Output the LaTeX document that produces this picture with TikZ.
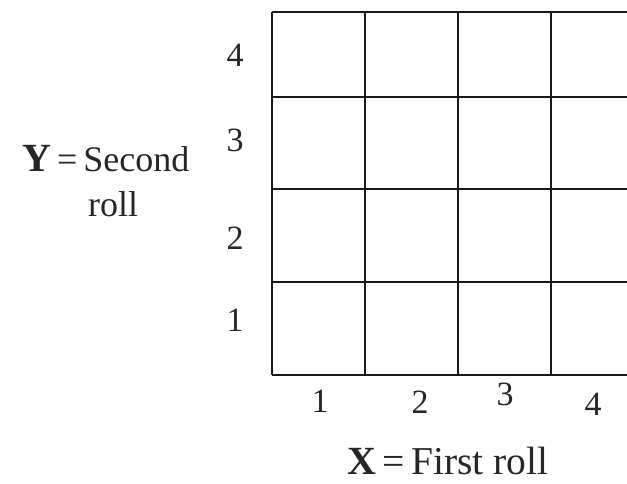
\documentclass[tikz,border=0pt]{standalone}
\usepackage{fontspec}
\setmainfont{Liberation Serif}
\tikzset{
  gridline/.style={line width=1.9pt, black!90},
  digit/.style={inner sep=0pt, anchor=base, font=\fontsize{34}{34}\selectfont, text=black!85},
  axistext/.style={inner sep=0pt, anchor=base west, font=\fontsize{36}{36}\selectfont, text=black!85},
}
\newcommand{\bigvar}[1]{{\fontsize{40}{40}\selectfont\bfseries #1}}
\begin{document}
\begin{tikzpicture}[x=1pt,y=1pt]
\useasboundingbox (0,0) rectangle (627,484);
% grid (image y -> 484 - y)
\foreach \x in {272,365,458,551}
  \draw[gridline] (\x,472) -- (\x,109);
\foreach \y in {472,387,295,202,109}
  \draw[gridline] (272,\y) -- (627,\y);
% y-axis digits
\node[digit] (y4) at (235,417) {4};
\node[digit] (y3) at (235,332) {3};
\node[digit] (y2) at (235,234) {2};
\node[digit] (y1) at (235,152) {1};
% x-axis digits
\node[digit] (x1) at (320,71) {1};
\node[digit] (x2) at (420,70) {2};
\node[digit] (x3) at (505,78) {3};
\node[digit] (x4) at (593,68) {4};
% axis texts
\node[axistext] (ylab) at (22,312) {\bigvar{Y}\,=\,Second};
\node[axistext] (yroll) at (88,267) {roll};
\node[axistext, font=\fontsize{39.5}{39.5}\selectfont] (xlab) at (347,9) {\bigvar{X}\,=\,First roll};
\end{tikzpicture}
\end{document}
